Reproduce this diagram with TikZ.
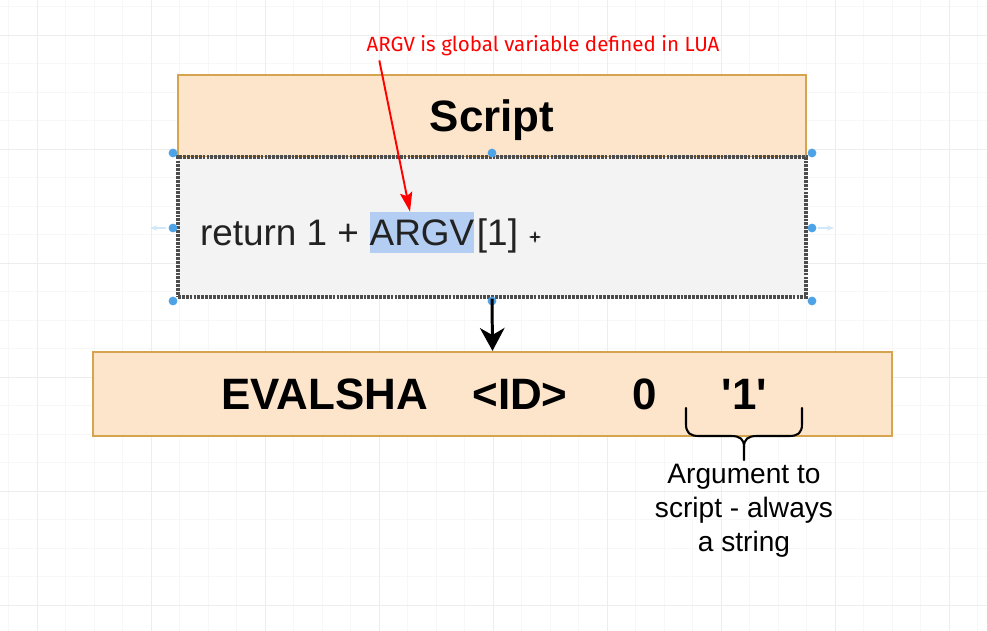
\documentclass[tikz,border=0pt]{standalone}
\usepackage{fontspec}
\setmainfont{Liberation Sans}
\newfontfamily\notefont{Fira Sans}
\usetikzlibrary{positioning, arrows.meta, calc}
\definecolor{HeadFill}{HTML}{FDE5CB}
\definecolor{HeadLine}{HTML}{D6A34E}
\definecolor{BodyFill}{HTML}{F3F3F3}
\definecolor{BodyLine}{HTML}{4D4D4D}
\definecolor{MarkColor}{HTML}{B4CDF3}
\definecolor{NoteColor}{HTML}{FF0000}
\definecolor{HandleColor}{HTML}{4DA3E6}
\definecolor{GridMinor}{HTML}{F7F7F7}
\definecolor{GridMajor}{HTML}{EDEDED}
\definecolor{TextColor}{HTML}{222222}
\tikzstyle{gridminor} = [GridMinor, line width=0.4pt]
\tikzstyle{gridmajor} = [GridMajor, line width=0.5pt]
\tikzstyle{header} = [draw=HeadLine, line width=1.4pt, fill=HeadFill, minimum width=12.56cm, minimum height=1.64cm, text depth=0pt, font=\fontsize{25}{30}\selectfont\bfseries]
\tikzstyle{codebox} = [draw=BodyLine, line width=1.9pt, dash pattern=on 1.6pt off 0.6pt, fill=BodyFill, minimum width=12.56cm, minimum height=2.8cm]
\tikzstyle{cmdbox} = [draw=HeadLine, line width=1.3pt, fill=HeadFill, minimum width=15.98cm, minimum height=1.68cm]
\tikzstyle{code} = [inner sep=0pt, text=TextColor, font=\fontsize{21}{25}\selectfont]
\tikzstyle{cmd} = [inner sep=0pt, anchor=base, font=\fontsize{25}{30}\selectfont\bfseries]
\tikzstyle{handle} = [circle, fill=HandleColor, inner sep=0pt, minimum size=5pt]
\tikzstyle{notearrow} = [NoteColor, line width=1.1pt, -{Stealth[length=11pt, width=7pt, inset=2pt]}]
\tikzstyle{flowarrow} = [black, line width=1.7pt, -{Stealth[length=13pt, width=14pt, inset=4pt]}]
\tikzstyle{bracestyle} = [black, line width=1.2pt, line cap=round, line join=round]

\begin{document}
\begin{tikzpicture}[x=0.02cm, y=-0.02cm]
    % canvas and grid
    \useasboundingbox (0,0) rectangle (987,631);
    \fill[white] (0,0) rectangle (987,631);
    \foreach \i in {0,...,34} \draw[gridminor] ({8.5+28.5*\i},0) -- ++(0,631);
    \foreach \i in {0,...,22} \draw[gridminor] (0,{6.5+28.5*\i}) -- ++(987,0);
    \foreach \i in {0,...,8} \draw[gridmajor] ({37+114*\i},0) -- ++(0,631);
    \foreach \i in {0,...,5} \draw[gridmajor] (0,{35+114*\i}) -- ++(987,0);

    % script box
    \node[header] (head) at (492,116) {Script};
    \node[codebox] (body) at (492,227) {};
    \node[code, fill=MarkColor, minimum width=2.04cm, minimum height=0.82cm] (argv) at (422,232.5) {ARGV};
    \node[code, anchor=base east] (ret) at ([xshift=-0.2cm]argv.base west) {return 1 +};
    \node[code, anchor=base west] (idx) at ([xshift=0.04cm]argv.base east) {[1]};

    % selection handles
    \foreach \p in {(173,153),(492,153),(812,153),(173,228),(812,228),(173,301),(492,301),(812,301)}
        \node[handle] at \p {};
    \draw[HandleColor!25, line width=1.2pt, -{Stealth[length=4pt]}] (166,228) -- (150,228);
    \draw[HandleColor!25, line width=1.2pt, -{Stealth[length=4pt]}] (818,228) -- (834,228);
    \draw[TextColor, line width=0.6pt, {Stealth[length=2pt]}-{Stealth[length=2pt]}] (529,237) -- (541,237);
    \draw[TextColor, line width=0.6pt, {Stealth[length=2pt]}-{Stealth[length=2pt]}] (535,231) -- (535,243);

    % note
    \node[text=NoteColor, font=\notefont\fontsize{11.7}{14}\selectfont] (note) at (543,46) {ARGV is global variable defined in LUA};
    \draw[notearrow] ($(note.south west)+(19,-2)$) -- ([xshift=-0.24cm]argv.north);

    % command box
    \node[cmdbox] (cmdline) at (492.5,394) {};
    \node[cmd] (evalsha) at (324.5,409) {EVALSHA};
    \node[cmd] (idarg) at (520,409) {<ID>};
    \node[cmd] (numkeys) at (645,409) {0};
    \node[cmd] (argone) at (744.5,409) {\textquotesingle1\textquotesingle};
    \draw[flowarrow] (body.south) -- (cmdline.north);

    % brace
    \coordinate (bl) at (686,408);
    \coordinate (br) at (802,408);
    \coordinate (tip) at (744,460);
    \draw[bracestyle] (bl) -- (686,424) .. controls (686,433) and (690,436) .. (699,436) -- (731,436)
        .. controls (740,436) and (744,439) .. (744,447) -- (tip);
    \draw[bracestyle] (br) -- (802,424) .. controls (802,433) and (798,436) .. (789,436) -- (757,436)
        .. controls (748,436) and (744,439) .. (744,447);
    \node[align=center, font=\fontsize{16}{19.3}\selectfont] (argnote) at (744,511) {Argument to\\script - always\\a string};
\end{tikzpicture}
\end{document}
